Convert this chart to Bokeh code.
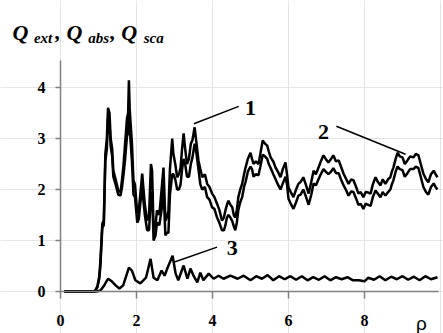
from bokeh.plotting import figure
from bokeh.models import Range1d, FixedTicker, Label, LinearAxis
from bokeh.embed import file_html
from bokeh.resources import INLINE

# ---- data ----
x12 = [0.1, 0.5, 0.9, 0.97, 1.02, 1.05, 1.1, 1.14, 1.18, 1.22,
       1.25, 1.29, 1.32, 1.36, 1.39, 1.45, 1.52, 1.58, 1.62, 1.66,
       1.7, 1.75, 1.78, 1.8, 1.82, 1.84, 1.88, 1.92, 1.96, 2.02,
       2.06, 2.1, 2.15, 2.18, 2.22, 2.28, 2.33, 2.38, 2.41, 2.45,
       2.5, 2.54, 2.6, 2.66, 2.71, 2.76, 2.8, 2.84, 2.88, 2.94,
       2.97, 3.02, 3.07, 3.12, 3.16, 3.2, 3.24, 3.28, 3.33, 3.38,
       3.43, 3.47, 3.53, 3.58, 3.63, 3.68, 3.73, 3.8, 3.86, 3.92,
       3.99, 4.05, 4.12, 4.18, 4.25, 4.3, 4.34, 4.38, 4.42, 4.47,
       4.52, 4.56, 4.6, 4.64, 4.68, 4.73, 4.78, 4.83, 4.87, 4.93,
       5.0, 5.04, 5.08, 5.14, 5.21, 5.26, 5.32, 5.38, 5.44, 5.48,
       5.53, 5.6, 5.66, 5.72, 5.79, 5.85, 5.92, 5.96, 6.0, 6.06,
       6.13, 6.2, 6.26, 6.32, 6.39, 6.45, 6.53, 6.6, 6.66, 6.72,
       6.79, 6.85, 6.92, 6.98, 7.05, 7.12, 7.18, 7.25, 7.32, 7.38,
       7.45, 7.52, 7.58, 7.65, 7.71, 7.78, 7.84, 7.9, 7.97, 8.03,
       8.1, 8.16, 8.22, 8.29, 8.35, 8.42, 8.48, 8.55, 8.62, 8.68,
       8.72, 8.76, 8.82, 8.87, 8.93, 9.0, 9.06, 9.13, 9.2, 9.29,
       9.35, 9.42, 9.48, 9.55, 9.62, 9.68, 9.75, 9.82, 9.87, 9.92]

q_ext = [0, 0, 0, 0.1, 0.3, 0.6, 1.33, 1.4, 2.7, 3.0,
         3.6, 3.5, 3.0, 2.8, 2.37, 2.2, 1.98, 1.95, 2.2, 2.5,
         2.9, 3.4, 3.5, 4.14, 3.6, 3.35, 2.9, 2.18, 2.1, 1.53,
         1.6, 1.9, 2.31, 2.04, 1.7, 1.39, 1.5, 2.5, 2.37, 1.2,
         1.3, 1.59, 1.5, 2.0, 2.43, 1.39, 1.45, 1.59, 2.4, 3.0,
         2.7, 2.5, 2.24, 2.3, 2.43, 2.8, 3.1, 2.8, 2.5, 2.6,
         2.9, 2.96, 3.22, 2.9, 2.57, 2.4, 2.24, 2.3, 2.11, 2.05,
         1.92, 1.85, 1.72, 1.6, 1.39, 1.45, 1.59, 1.7, 1.78, 1.7,
         1.65, 1.5, 1.45, 1.6, 1.85, 2.0, 2.11, 2.3, 2.43, 2.6,
         2.72, 2.6, 2.5, 2.55, 2.5, 2.7, 2.96, 2.9, 2.86, 2.75,
         2.63, 2.55, 2.43, 2.35, 2.24, 2.4, 2.53, 2.3, 2.04, 1.95,
         1.85, 2.0, 2.11, 2.15, 2.24, 2.11, 1.92, 2.15, 2.37, 2.3,
         2.43, 2.55, 2.67, 2.6, 2.53, 2.6, 2.67, 2.55, 2.57, 2.45,
         2.31, 2.2, 2.11, 2.2, 2.18, 2.05, 1.92, 1.95, 1.85, 1.95,
         1.94, 1.92, 2.1, 2.24, 2.15, 2.08, 2.2, 2.11, 2.2, 2.24,
         2.35, 2.43, 2.6, 2.72, 2.65, 2.63, 2.5, 2.57, 2.65, 2.63,
         2.7, 2.67, 2.5, 2.31, 2.2, 2.14, 2.3, 2.37, 2.3, 2.24]

q_abs = [0, 0, 0, 0.08, 0.25, 0.5, 1.25, 1.3, 2.55, 2.8,
         3.4, 3.3, 2.85, 2.65, 2.25, 2.1, 1.9, 1.88, 2.05, 2.3,
         2.6, 3.05, 3.1, 3.7, 3.25, 3.0, 2.55, 1.9, 1.85, 1.35,
         1.42, 1.72, 2.05, 1.8, 1.5, 1.2, 1.2, 1.9, 1.95, 1.0,
         1.1, 1.35, 1.3, 1.6, 2.05, 1.1, 1.15, 1.15, 1.9, 2.3,
         2.3, 2.2, 2.0, 2.0, 2.1, 2.4, 2.6, 2.5, 2.25, 2.25,
         2.5, 2.62, 2.9, 2.7, 2.4, 2.1, 2.0, 2.05, 1.85, 1.8,
         1.65, 1.62, 1.45, 1.35, 1.2, 1.2, 1.3, 1.45, 1.5, 1.45,
         1.38, 1.28, 1.2, 1.35, 1.6, 1.75, 1.85, 2.05, 2.15, 2.35,
         2.45, 2.4, 2.25, 2.3, 2.28, 2.45, 2.68, 2.65, 2.6, 2.5,
         2.42, 2.3, 2.2, 2.1, 2.0, 2.12, 2.25, 2.1, 1.82, 1.72,
         1.62, 1.75, 1.88, 1.9, 2.0, 1.88, 1.7, 1.9, 2.12, 2.08,
         2.2, 2.3, 2.4, 2.35, 2.3, 2.35, 2.42, 2.32, 2.32, 2.2,
         2.08, 1.98, 1.88, 1.96, 1.95, 1.82, 1.7, 1.72, 1.62, 1.72,
         1.7, 1.68, 1.85, 1.98, 1.92, 1.85, 1.95, 1.88, 1.95, 2.0,
         2.1, 2.18, 2.35, 2.45, 2.4, 2.38, 2.25, 2.32, 2.4, 2.4,
         2.45, 2.42, 2.25, 2.05, 1.95, 1.9, 2.05, 2.12, 2.05, 2.0]

x3 = [0.1, 0.95, 1.05, 1.15, 1.25, 1.35, 1.45, 1.55, 1.65, 1.8,
      1.88, 1.97, 2.1, 2.25, 2.37, 2.45, 2.55, 2.66, 2.74, 2.82,
      2.95, 3.03, 3.1, 3.24, 3.34, 3.42, 3.5, 3.6, 3.68, 3.76,
      3.9, 4.03, 4.16, 4.29, 4.47, 4.66, 4.82, 5.0, 5.15, 5.3,
      5.45, 5.6, 5.75, 5.9, 6.05, 6.2, 6.35, 6.5, 6.65, 6.8,
      6.95, 7.1, 7.25, 7.4, 7.55, 7.7, 7.85, 8.0, 8.1, 8.25,
      8.4, 8.55, 8.7, 8.85, 9.0, 9.15, 9.3, 9.45, 9.6, 9.75,
      9.92]
q_sca = [0, 0, 0.02, 0.12, 0.25, 0.2, 0.12, 0.06, 0.12, 0.47,
         0.41, 0.22, 0.16, 0.27, 0.64, 0.27, 0.22, 0.41, 0.31, 0.47,
         0.7, 0.35, 0.22, 0.51, 0.25, 0.45, 0.31, 0.18, 0.37, 0.22,
         0.35, 0.25, 0.31, 0.25, 0.31, 0.25, 0.31, 0.22, 0.3, 0.25,
         0.32, 0.22, 0.3, 0.24, 0.3, 0.23, 0.3, 0.22, 0.28, 0.23,
         0.3, 0.22, 0.28, 0.24, 0.28, 0.22, 0.22, 0.2, 0.27, 0.23,
         0.3, 0.22, 0.29, 0.24, 0.3, 0.23, 0.29, 0.22, 0.3, 0.24,
         0.28]

x_ticks = [0, 2, 4, 6, 8]
y_ticks = [0, 1, 2, 3, 4]
x_axis_span = (0, 9.95)
y_axis_span = (0, 4.53)
x_name = "ρ"
x_name_pos = 9.5

curve_labels = ["1", "2", "3"]
label_xy = [(5.0, 3.59), (6.92, 3.12), (4.52, 0.86)]
leader_lines = [(3.51, 3.29, 4.69, 3.63), (7.26, 3.24, 9.08, 2.69), (3.0, 0.58, 4.12, 0.87)]

SERIF = "Liberation Serif"

# frame covers whole canvas; axes are drawn at fixed locations inside it
p = figure(width=443, height=333, output_backend="svg", toolbar_location=None,
           x_range=Range1d(-1.579, 10.079), y_range=Range1d(-0.8235, 5.706),
           x_axis_location=None, y_axis_location=None,
           min_border=0)
p.outline_line_color = None
p.background_fill_color = "white"
p.border_fill_color = "white"

xaxis = LinearAxis(fixed_location=0, bounds=x_axis_span, ticker=FixedTicker(ticks=x_ticks))
yaxis = LinearAxis(fixed_location=0, bounds=y_axis_span, ticker=FixedTicker(ticks=y_ticks))
for ax in (xaxis, yaxis):
    ax.axis_line_color = "#808080"
    ax.axis_line_width = 1.5
    ax.major_tick_line_color = "#808080"
    ax.major_tick_line_width = 1.5
    ax.major_tick_in = 0
    ax.minor_tick_line_color = None
    ax.major_label_text_font = SERIF
    ax.major_label_text_font_style = "bold"
    ax.major_label_text_font_size = "16px"
    ax.major_label_text_color = "black"
xaxis.major_tick_out = 7
xaxis.major_label_standoff = 16
yaxis.major_tick_out = 5
yaxis.major_label_standoff = 10
p.add_layout(xaxis, "below")
p.add_layout(yaxis, "left")

# axis name rho, drawn as the only label of a bare second x axis
name_axis = LinearAxis(fixed_location=0, ticker=FixedTicker(ticks=[x_name_pos]),
                       major_label_overrides={x_name_pos: x_name})
name_axis.axis_line_color = None
name_axis.major_tick_line_color = None
name_axis.minor_tick_line_color = None
name_axis.major_tick_in = 0
name_axis.major_tick_out = 0
name_axis.major_label_standoff = 21
name_axis.major_label_text_font = "Liberation Sans"
name_axis.major_label_text_font_size = "19px"
name_axis.major_label_text_color = "black"
p.add_layout(name_axis, "below")

p.line(x12, q_ext, line_color="black", line_width=2.5)
p.line(x12, q_abs, line_color="black", line_width=2.5)
p.line(x3, q_sca, line_color="black", line_width=2.5)

for t, (lx, ly), (a, b, c, d) in zip(curve_labels, label_xy, leader_lines):
    p.segment(x0=[a], y0=[b], x1=[c], y1=[d], line_color="black", line_width=1.5)
    p.add_layout(Label(x=lx, y=ly, text=t, text_font=SERIF, text_font_style="bold",
                       text_font_size="22px", text_align="center", text_baseline="middle",
                       text_color="black"))

# title made of pieces: Q_ext ,Q_abs ,Q_sca
pieces = [("Q", -1.263, 5.08, "22px"), ("ext", -0.70, 4.97, "15px"),
          (",", -0.14, 5.08, "22px"), ("Q", 0.16, 5.08, "22px"), ("abs", 0.73, 4.97, "15px"),
          (",", 1.31, 5.08, "22px"), ("Q", 1.6, 5.08, "22px"), ("sca", 2.19, 4.97, "15px")]
for txt, tx, ty, fs in pieces:
    p.add_layout(Label(x=tx, y=ty, text=txt,
                       text_font=SERIF, text_font_style="bold italic",
                       text_font_size=fs, text_align="left", text_baseline="alphabetic",
                       text_color="black"))

open("out.html", "w").write(file_html(p, INLINE))
